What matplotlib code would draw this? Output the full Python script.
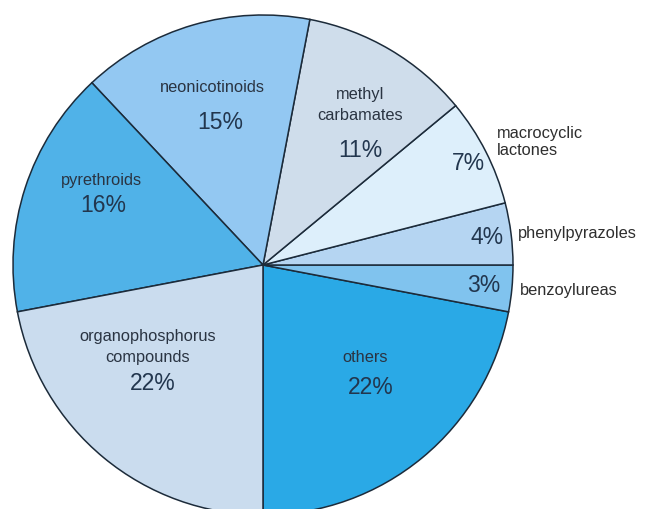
import matplotlib.pyplot as plt

# insecticide classes, counterclockwise from the bottom
classes = ['others', 'benzoylureas', 'phenylpyrazoles', 'macrocyclic\nlactones',
           'methyl\ncarbamates', 'neonicotinoids', 'pyrethroids',
           'organophosphorus\ncompounds']
shares = [22, 3, 4, 7, 11, 15, 16, 22]
colors = ['#2aa9e6', '#80c3ee', '#b5d5f2', '#ddeffb',
          '#cfddeb', '#93c8f2', '#50b2e8', '#cadcee']

# label placement in pixel terms (centre 263,265 ; radius 250)
name_pos = [(365, 358), (520, 290), (518, 233), (497, 142),
            (360, 105), (212, 87), (101, 180), (148, 347)]
name_ha = ['center', 'left', 'left', 'left', 'center', 'center', 'center', 'center']
pct_pos = [(371, 387), (484, 285), (487, 237), (468, 163),
           (360, 150), (220, 122), (103, 205), (153, 383)]

plt.rcParams['font.family'] = ['Liberation Sans', 'DejaVu Sans']

fig = plt.figure(figsize=(6.48, 5.09), dpi=100)
ax = fig.add_axes([13 / 648, -6 / 509, 500 / 648, 500 / 509])

ax.pie(shares, colors=colors, startangle=-90, counterclock=True, radius=1,
       wedgeprops=dict(edgecolor='#1c2b3a', linewidth=1.1))


def to_data(p):
    return (p[0] - 263) / 250, (265 - p[1]) / 250


for name, share, npos, ha, ppos in zip(classes, shares, name_pos, name_ha, pct_pos):
    x, y = to_data(npos)
    inside = ha == 'center'
    ax.text(x, y, name, ha=ha, va='center', fontsize=11.8,
            color='#2a3442' if inside else '#2e2e2e',
            linespacing=1.45 if inside else 1.2)
    x, y = to_data(ppos)
    ax.text(x, y, f'{share}%', ha='center', va='center', fontsize=16.5,
            color='#22364e')

ax.set_xlim(-1, 1)
ax.set_ylim(-1, 1)
ax.set_aspect('equal')
ax.axis('off')
fig.savefig('out.png', dpi=100)
